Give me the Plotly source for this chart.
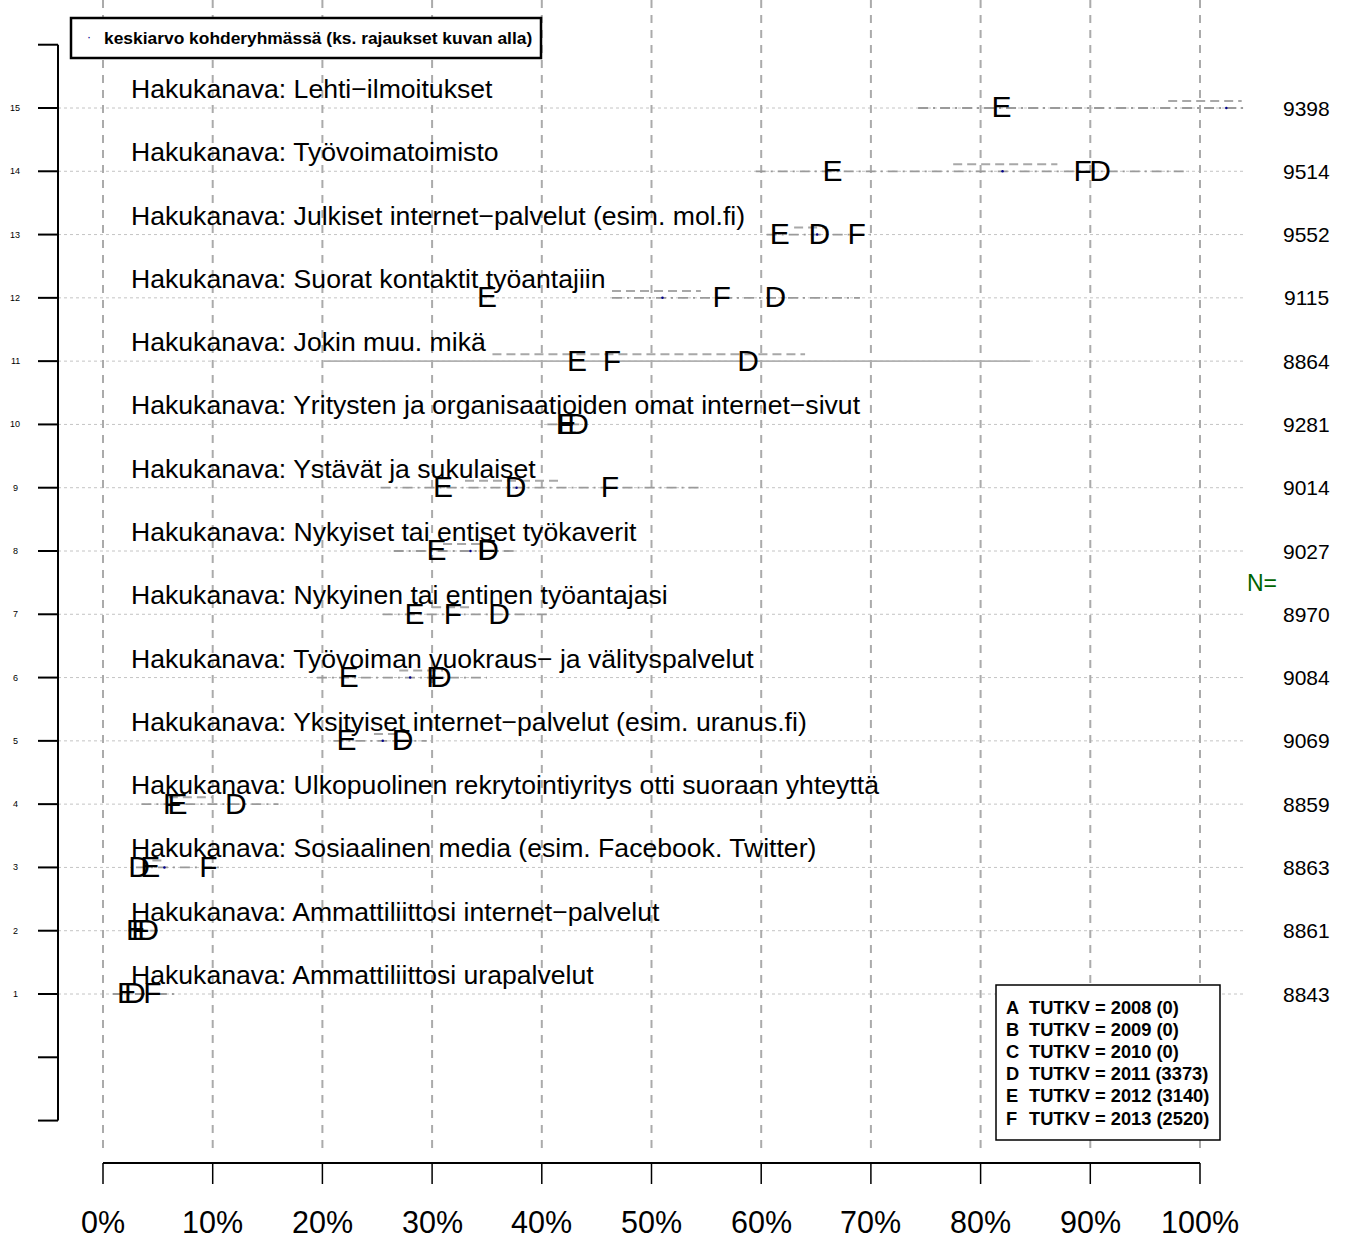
import plotly.graph_objects as go

# ---------------- data ----------------
rows = list(range(1, 16))
categories = [
    "Hakukanava: Ammattiliittosi urapalvelut",
    "Hakukanava: Ammattiliittosi internet\u2212palvelut",
    "Hakukanava: Sosiaalinen media (esim. Facebook. Twitter)",
    "Hakukanava: Ulkopuolinen rekrytointiyritys otti suoraan yhteyttä",
    "Hakukanava: Yksityiset internet\u2212palvelut (esim. uranus.fi)",
    "Hakukanava: Työvoiman vuokraus\u2212 ja välityspalvelut",
    "Hakukanava: Nykyinen tai entinen työantajasi",
    "Hakukanava: Nykyiset tai entiset työkaverit",
    "Hakukanava: Ystävät ja sukulaiset",
    "Hakukanava: Yritysten ja organisaatioiden omat internet\u2212sivut",
    "Hakukanava: Jokin muu. mikä",
    "Hakukanava: Suorat kontaktit työantajiin",
    "Hakukanava: Julkiset internet\u2212palvelut (esim. mol.fi)",
    "Hakukanava: Työvoimatoimisto",
    "Hakukanava: Lehti\u2212ilmoitukset",
]
n_values = [8843, 8861, 8863, 8859, 9069, 9084, 8970, 9027, 9014, 9281, 8864, 9115, 9552, 9514, 9398]

vals_D = [2.9, 4.1, 3.3, 12.1, 27.3, 30.8, 36.1, 35.1, 37.6, 43.3, 58.8, 61.3, 65.3, 90.9, None]
vals_E = [2.2, 3.0, 4.3, 6.8, 22.2, 22.4, 28.4, 30.4, 31.0, 42.3, 43.2, 35.0, 61.7, 66.5, 81.9]
vals_F = [4.5, 3.4, 9.6, 6.3, 27.2, 30.3, 31.9, 35.0, 46.2, 42.1, 46.4, 56.4, 68.7, 89.3, None]

# gray range lines (dash-dot, on the row) and inner dashed ranges (slightly above)
range_lo = [0.9, 2.3, 3.0, 3.5, 21.0, 19.5, 25.5, 26.5, 25.3, 40.5, None, 46.4, 60.5, 59.5, 74.3]
range_hi = [6.5, 5.0, 11.0, 16.0, 29.5, 35.0, 40.5, 37.5, 54.5, 44.0, None, 69.0, 70.0, 99.0, 104.0]
inner_lo = [None, None, 4.5, 6.0, 24.7, 27.0, 30.0, 31.0, 33.0, None, 35.5, 46.4, 63.0, 77.5, 97.1]
inner_hi = [None, None, 5.5, 10.0, 27.0, 31.0, 33.5, 34.5, 41.5, None, 64.0, 54.5, 66.0, 87.0, 103.8]
solid_lo = [None] * 10 + [20.1] + [None] * 4
solid_hi = [None] * 10 + [84.5] + [None] * 4
means = [None, None, 5.6, None, 25.5, 28.0, None, 33.5, 37.7, None, None, 51.0, 65.1, 82.0, 102.4]

x_ticks = [0, 10, 20, 30, 40, 50, 60, 70, 80, 90, 100]
x_tick_labels = ["0%", "10%", "20%", "30%", "40%", "50%", "60%", "70%", "80%", "90%", "100%"]
y_axis_ticks = list(range(-1, 17))

legend_letters = ["A", "B", "C", "D", "E", "F"]
legend_texts = ["TUTKV = 2008 (0)", "TUTKV = 2009 (0)", "TUTKV = 2010 (0)",
                "TUTKV = 2011 (3373)", "TUTKV = 2012 (3140)", "TUTKV = 2013 (2520)"]
mean_label = "keskiarvo kohderyhmässä (ks. rajaukset kuvan alla)"

# ---------------- geometry ----------------
W, H = 1348, 1238
X0PX, XSCALE = 103.0, 10.97          # px of 0%, px per 1%
Y1PX, YSCALE = 994.0, 63.286         # px of row 1, px per row
xr = [-X0PX / XSCALE, (W - X0PX) / XSCALE]
yr = [1 - (H - Y1PX) / YSCALE, 1 + Y1PX / YSCALE]

def xv(px):
    return (px - X0PX) / XSCALE

def yv(py):
    return 1 + (Y1PX - py) / YSCALE

FONT = "Liberation Sans, Arial, sans-serif"
fig = go.Figure()

def seg_trace(lo, hi, off, dash, color, width):
    xs, ys = [], []
    for r, a, b in zip(rows, lo, hi):
        if a is None or b is None:
            continue
        xs += [a, b, None]
        ys += [r + off, r + off, None]
    fig.add_trace(go.Scatter(x=xs, y=ys, mode="lines", hoverinfo="skip",
                             line=dict(color=color, width=width, dash=dash), showlegend=False))

# horizontal dotted grid
gx, gy = [], []
for r in rows:
    gx += [xv(58), xv(1246), None]
    gy += [r, r, None]
fig.add_trace(go.Scatter(x=gx, y=gy, mode="lines", hoverinfo="skip",
                         line=dict(color="#c4c4c4", width=1, dash="dot"), showlegend=False))
# vertical dashed grid
vx, vy = [], []
for t in x_ticks:
    vx += [t, t, None]
    vy += [yv(0), yv(1150), None]
fig.add_trace(go.Scatter(x=vx, y=vy, mode="lines", hoverinfo="skip",
                         line=dict(color="#ababab", width=2, dash="8px,7px"), showlegend=False))

seg_trace(range_lo, range_hi, 0.0, "10px,5px,2px,5px", "#9a9a9a", 1.8)
seg_trace(inner_lo, inner_hi, 0.11, "9px,5px", "#a8a8a8", 2)
seg_trace(solid_lo, solid_hi, 0.0, "solid", "#b0b0b0", 1.8)

# means
fig.add_trace(go.Scatter(x=[m for m in means if m is not None],
                         y=[r for r, m in zip(rows, means) if m is not None],
                         mode="markers", marker=dict(color="#00008b", size=2.5),
                         hoverinfo="skip", showlegend=False))

# letters
for letter, vals in (("D", vals_D), ("E", vals_E), ("F", vals_F)):
    xs = [v for v in vals if v is not None]
    ys = [r - 0.03 for r, v in zip(rows, vals) if v is not None]
    fig.add_trace(go.Scatter(x=xs, y=ys, mode="text", text=[letter] * len(xs),
                             textposition="middle center",
                             textfont=dict(family=FONT, size=30, color="black"),
                             hoverinfo="skip", showlegend=False))

annotations = []
# category labels
for r, c in zip(rows, categories):
    annotations.append(dict(x=xv(129), y=r + 0.30, text=c, showarrow=False, xanchor="left",
                            yanchor="middle", font=dict(family=FONT, size=26.6, color="black")))
# N values
for r, n in zip(rows, n_values):
    annotations.append(dict(x=xv(1306), y=r, text=str(n), showarrow=False, xanchor="center",
                            yanchor="middle", font=dict(family=FONT, size=21, color="black")))
annotations.append(dict(x=xv(1262), y=yv(583), text="N=", showarrow=False, xanchor="center",
                        yanchor="middle", font=dict(family=FONT, size=23, color="#006400")))
# left axis
shapes = []
shapes.append(dict(type="line", x0=xv(58), x1=xv(58), y0=-1, y1=16, line=dict(color="black", width=2)))
for t in y_axis_ticks:
    shapes.append(dict(type="line", x0=xv(38), x1=xv(58), y0=t, y1=t, line=dict(color="black", width=2)))
    if 1 <= t <= 15:
        annotations.append(dict(x=xv(15), y=t, text=str(t), showarrow=False, xanchor="center",
                                yanchor="middle", font=dict(family=FONT, size=9, color="black")))
# bottom axis
shapes.append(dict(type="line", x0=x_ticks[0], x1=x_ticks[-1], y0=yv(1163), y1=yv(1163),
                   line=dict(color="black", width=2)))
for t, lab in zip(x_ticks, x_tick_labels):
    shapes.append(dict(type="line", x0=t, x1=t, y0=yv(1163), y1=yv(1184), line=dict(color="black", width=1.5)))
    annotations.append(dict(x=t, y=yv(1222), text=lab, showarrow=False, xanchor="center",
                            yanchor="middle", font=dict(family=FONT, size=30.5, color="black")))
# top legend box
shapes.append(dict(type="rect", x0=xv(71), x1=xv(541), y0=yv(18), y1=yv(58),
                   line=dict(color="black", width=2.5), fillcolor="white", layer="above"))
annotations.append(dict(x=xv(89), y=yv(37), text="\u00b7", showarrow=False, xanchor="center",
                        yanchor="middle", font=dict(family=FONT, size=12, color="#00008b")))
annotations.append(dict(x=xv(102), y=yv(38), text="<b>" + mean_label + "</b>", showarrow=False,
                        xanchor="left", yanchor="middle", font=dict(family=FONT, size=17.4, color="black")))
# bottom-right legend box
shapes.append(dict(type="rect", x0=xv(996), x1=xv(1220), y0=yv(985), y1=yv(1140),
                   line=dict(color="black", width=1.5), fillcolor="white", layer="above"))
for i, (l, t) in enumerate(zip(legend_letters, legend_texts)):
    py = 1007 + i * 22.2
    annotations.append(dict(x=xv(1004), y=yv(py), text="<b>" + l + "</b>", showarrow=False,
                            xanchor="left", yanchor="middle", font=dict(family=FONT, size=18.3, color="black")))
    annotations.append(dict(x=xv(1027), y=yv(py), text="<b>" + t + "</b>", showarrow=False,
                            xanchor="left", yanchor="middle", font=dict(family=FONT, size=18.3, color="black")))

fig.update_layout(
    width=W, height=H, margin=dict(l=0, r=0, t=0, b=0),
    paper_bgcolor="white", plot_bgcolor="white",
    xaxis=dict(range=xr, visible=False, fixedrange=True),
    yaxis=dict(range=yr, visible=False, fixedrange=True),
    shapes=shapes, annotations=annotations, showlegend=False,
)
fig.write_html("out.html", config={"displayModeBar": False},
               post_script="document.body.style.margin='0';")
